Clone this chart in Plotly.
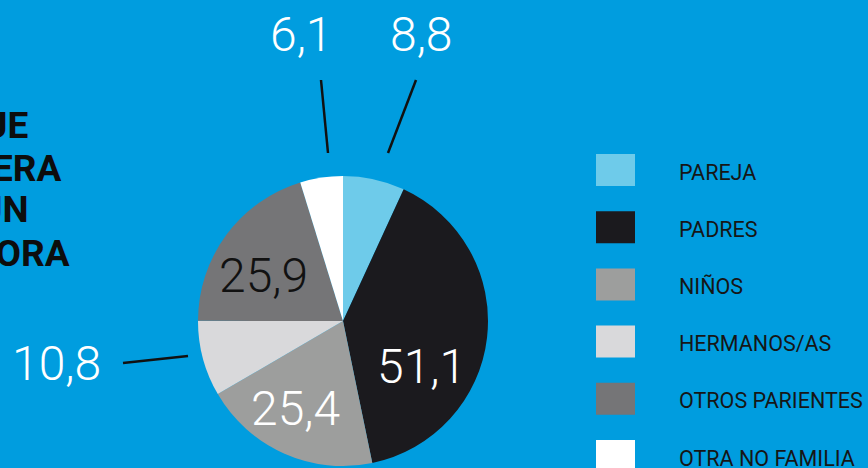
import plotly.graph_objects as go

# Household composition shares (%)
categories = ["PAREJA", "PADRES", "NIÑOS", "HERMANOS/AS", "OTROS PARIENTES", "OTRA NO FAMILIA"]
values = [8.8, 51.1, 25.4, 10.8, 25.9, 6.1]
value_labels = ["8,8", "51,1", "25,4", "10,8", "25,9", "6,1"]
colors = ["#6ecbea", "#1b1a1e", "#9d9e9d", "#d9d9db", "#757577", "#ffffff"]

W, H = 868, 468
BG = "#009ddf"


def px(x, y):
    """Pixel position (from top-left) to paper coordinates."""
    return x / W, 1 - y / H


fig = go.Figure(go.Pie(
    labels=categories,
    values=values,
    sort=False,
    direction="clockwise",
    rotation=0,
    marker=dict(colors=colors, line=dict(width=0)),
    textinfo="none",
    hovertemplate="%{label}: %{value}<extra></extra>",
    showlegend=False,
    domain=dict(x=[198 / W, 488 / W], y=[2 / H, 292 / H]),
))

num_font = dict(family="Roboto, sans-serif", size=48, weight=300)

# value label placement: (pixel x, pixel y, text colour)
label_pos = {
    "8,8": (421, 35, "white"),
    "6,1": (301, 35, "white"),
    "10,8": (57, 363, "white"),
    "25,9": (263, 275, "#111111"),
    "51,1": (421, 366, "white"),
    "25,4": (295, 408, "white"),
}
annotations = []
for txt in value_labels:
    x, y, c = label_pos[txt]
    ax, ay = px(x, y)
    annotations.append(dict(x=ax, y=ay, xref="paper", yref="paper", text=txt,
                            showarrow=False, xanchor="center", yanchor="middle",
                            font=dict(num_font, color=c)))

# leader lines for the small slices
leaders = [((321, 80), (328, 153)), ((416, 80), (388, 153)), ((123, 363), (188, 356))]
shapes = []
for (x0, y0), (x1, y1) in leaders:
    a0, b0 = px(x0, y0)
    a1, b1 = px(x1, y1)
    shapes.append(dict(type="line", xref="paper", yref="paper", x0=a0, y0=b0, x1=a1, y1=b1,
                       line=dict(color="#111111", width=2.5)))

# legend: swatches and labels
legend_font = dict(family="Roboto, sans-serif", size=21.5, color="#161616")
for i, (cat, col) in enumerate(zip(categories, colors)):
    cy = 170 + i * 57.2
    a0, b0 = px(596, cy - 16)
    a1, b1 = px(635, cy + 16)
    shapes.append(dict(type="rect", xref="paper", yref="paper", x0=a0, y0=b0, x1=a1, y1=b1,
                       fillcolor=col, line=dict(width=0)))
    lx, ly = px(677, cy + 2)
    annotations.append(dict(x=lx, y=ly, xref="paper", yref="paper", text=cat,
                            showarrow=False, xanchor="left", yanchor="middle", font=legend_font))

# headline fragment at the left edge
title_font = dict(family="Roboto, sans-serif", size=37, color="#0d0d0d", weight="bold")
for txt, xr, yc in [("UE", 30, 126), ("ERA", 64, 168), ("ÚN", 31, 210), ("TORA", 72, 254)]:
    ax, ay = px(xr, yc)
    annotations.append(dict(x=ax, y=ay, xref="paper", yref="paper", text=txt,
                            showarrow=False, xanchor="right", yanchor="middle", font=title_font))

fig.update_layout(
    width=W, height=H,
    margin=dict(l=0, r=0, t=0, b=0),
    paper_bgcolor=BG, plot_bgcolor=BG,
    annotations=annotations,
    shapes=shapes,
)

fig.write_html("out.html")
